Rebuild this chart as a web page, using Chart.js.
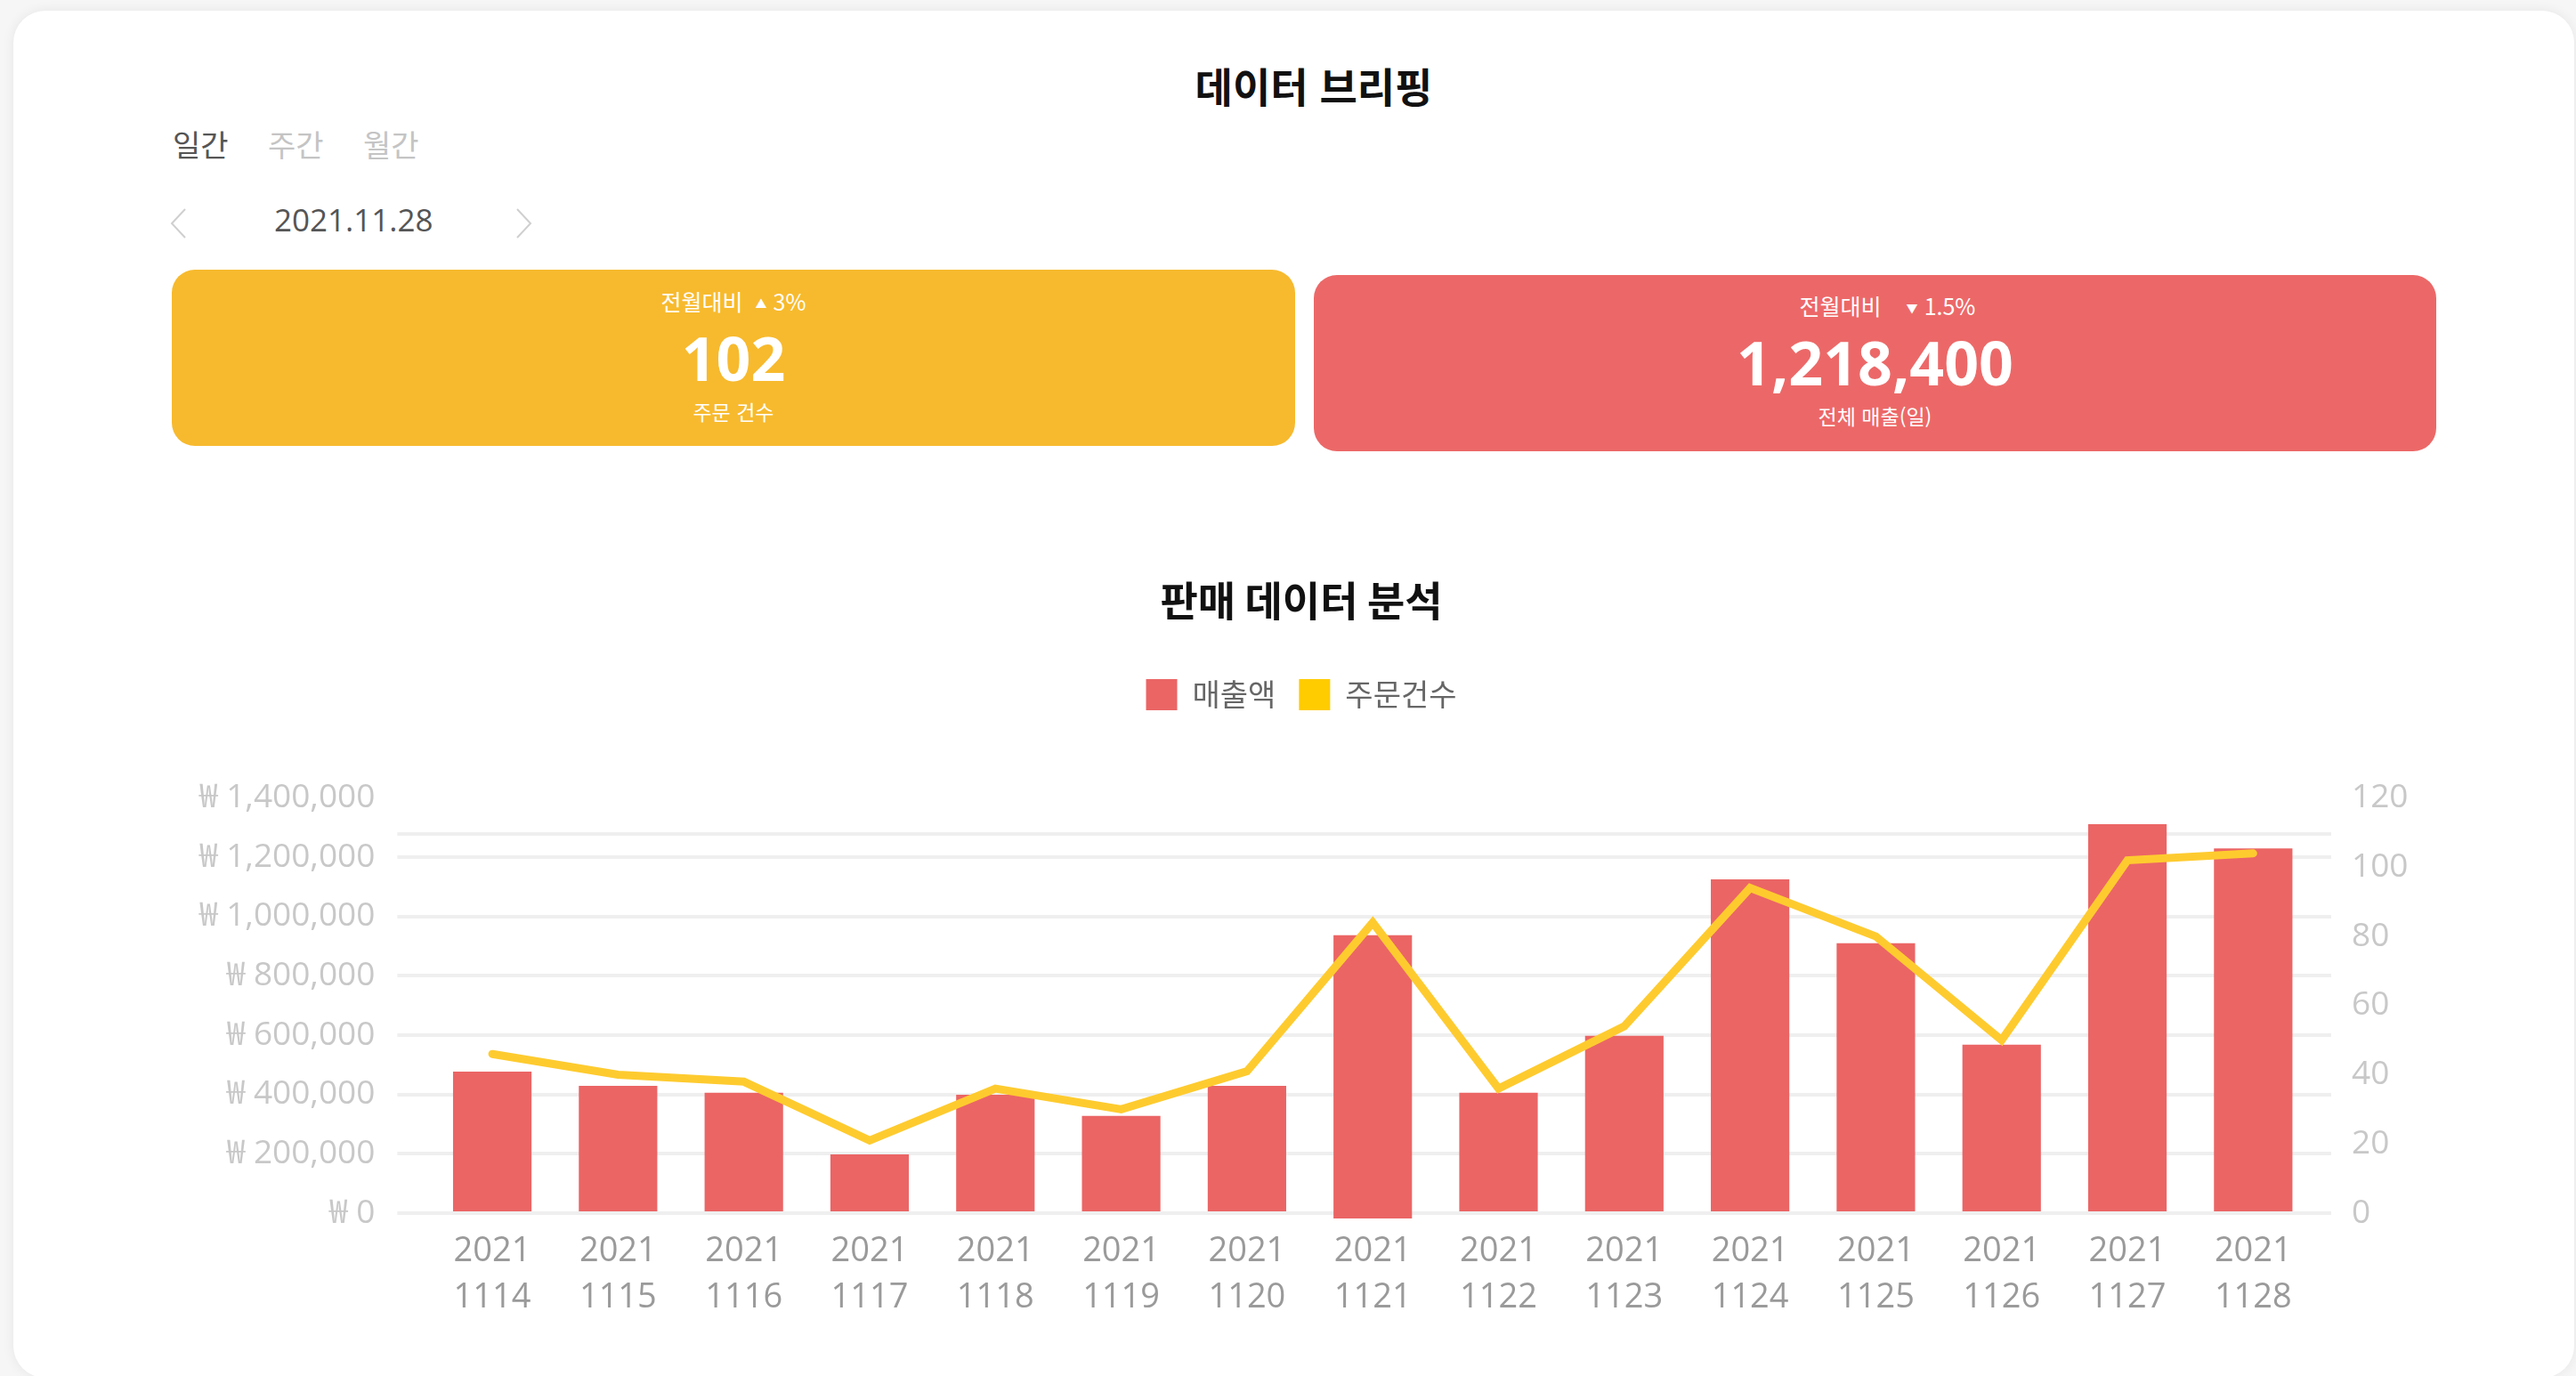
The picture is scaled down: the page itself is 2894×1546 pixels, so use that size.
<!DOCTYPE html>
<html lang="ko">
<head>
<meta charset="utf-8">
<title>데이터 브리핑</title>
<script src="https://cdn.jsdelivr.net/npm/chart.js@4.4.0/dist/chart.umd.min.js"></script>
<style>
  html, body { margin: 0; padding: 0; }
  body { width: 2894px; height: 1546px; overflow: hidden; background: #f6f6f6; position: relative;
         font-family: 'Open Sans', 'Noto Sans CJK KR', sans-serif; }
  .card { position: absolute; left: 15px; top: 12px; width: 2877px; height: 1536px; background: #fff;
          border-radius: 36px; box-shadow: 0 0 14px rgba(0,0,0,0.07); }
  .abs { position: absolute; white-space: nowrap; }
  .title { left: 1076px; width: 800px; top: 67px; height: 56px; line-height: 56px; text-align: center;
           font-size: 46px; font-weight: bold; color: #111; font-family: 'Noto Sans CJK KR', sans-serif; }
  .tab { top: 142px; height: 40px; line-height: 40px; font-size: 34px; color: #c4c4c4; font-family: 'Noto Sans CJK KR', sans-serif; }
  .tab.on { color: #555; }
  .date { left: 308px; top: 226px; height: 42px; line-height: 42px; font-size: 35px; color: #555; }
  .kpi { position: absolute; border-radius: 26px; color: #fff; }
  .kpi .line { position: absolute; left: 0; width: 100%; text-align: center; white-space: nowrap; }
  .kpi .sub { font-size: 25px; height: 30px; line-height: 30px; font-family: 'Noto Sans CJK KR', sans-serif; }
  .kpi .sub .tri { font-size: 13px; vertical-align: 3px; }
  .kpi .num { font-size: 68px; font-weight: bold; height: 80px; line-height: 80px; }
  .kpi .lab { font-size: 23px; height: 28px; line-height: 28px; font-family: 'Noto Sans CJK KR', sans-serif; }
  #chart { position: absolute; left: 150px; top: 620px; }
</style>
</head>
<body>
<div class="card"></div>
<div class="abs title">데이터 브리핑</div>
<div class="abs tab on" style="left:194px;">일간</div>
<div class="abs tab" style="left:301px;">주간</div>
<div class="abs tab" style="left:408px;">월간</div>
<svg class="abs" style="left:188px; top:233px;" width="24" height="36"><polyline points="20,2 5,18 20,34" fill="none" stroke="#cfcfcf" stroke-width="2"/></svg>
<div class="abs date">2021.11.28</div>
<svg class="abs" style="left:577px; top:233px;" width="24" height="36"><polyline points="4,2 19,18 4,34" fill="none" stroke="#cfcfcf" stroke-width="2"/></svg>

<div class="kpi" style="left:193px; top:303px; width:1262px; height:198px; background:#F7BA2E;">
  <div class="line sub" style="top:20px;">전월대비&nbsp;&nbsp;<span class="tri">▲</span>&nbsp;3%</div>
  <div class="line num" style="top:59px;">102</div>
  <div class="line lab" style="top:145px;">주문 건수</div>
</div>
<div class="kpi" style="left:1476px; top:309px; width:1261px; height:198px; background:#EC6868;">
  <div class="line sub" style="top:19px;">&nbsp;&nbsp;&nbsp;&nbsp;전월대비&nbsp;&nbsp;&nbsp;&nbsp;<span class="tri">▼</span>&nbsp;1.5%</div>
  <div class="line num" style="top:58px;">1,218,400</div>
  <div class="line lab" style="top:144px;">전체 매출(일)</div>
</div>

<canvas id="chart" width="2624" height="926"></canvas>

<script>
// ---- data ----
const categories = [
  ['2021', '1114'], ['2021', '1115'], ['2021', '1116'], ['2021', '1117'], ['2021', '1118'],
  ['2021', '1119'], ['2021', '1120'], ['2021', '1121'], ['2021', '1122'], ['2021', '1123'],
  ['2021', '1124'], ['2021', '1125'], ['2021', '1126'], ['2021', '1127'], ['2021', '1128']
];
const salesValues = [477000, 429000, 406000, 198000, 399000, 328000, 429000, 937000,
                     406000, 598000, 1126000, 910000, 568000, 1312000, 1230000];
const salesBase   = [0, 0, 0, 0, 0, 0, 0, -18000, 0, 0, 0, 0, 0, 0, 0];
const orderCounts = [46, 40, 38, 21, 36, 30, 41, 84, 36, 54, 94, 80, 50, 102, 104];
const salesTicks  = [0, 200000, 400000, 600000, 800000, 1000000, 1200000, 1400000];
const countTicks  = [0, 20, 40, 60, 80, 100, 120];
const salesExtraGrid = 1280000;
const seriesNames = ['매출액', '주문건수'];

// ---- chart ----
const FONT = "'Open Sans', 'Noto Sans CJK KR', sans-serif";
Chart.defaults.font.family = FONT;
const GRID = '#efefef';
const salesGridTicks = scale => {
  scale.ticks = salesTicks.concat([salesExtraGrid]).sort((a, b) => a - b).map(v => ({ value: v }));
};
const salesGridColor = ctx => (ctx.tick && ctx.tick.value === salesTicks[salesTicks.length - 1]) ? 'rgba(0,0,0,0)' : GRID;

new Chart(document.getElementById('chart'), {
  data: {
    labels: categories,
    datasets: [
      {
        type: 'bar',
        label: seriesNames[0],
        data: categories.map((c, i) => [salesBase[i], salesValues[i]]),
        backgroundColor: '#EB6565',
        yAxisID: 'y',
        order: 1,
        clip: false,
        categoryPercentage: 0.8,
        barPercentage: 0.78
      },
      {
        type: 'line',
        label: seriesNames[1],
        data: orderCounts,
        borderColor: '#FECB2F',
        backgroundColor: '#FFCC00',
        borderWidth: 9,
        borderCapStyle: 'round',
        borderJoinStyle: 'miter',
        pointRadius: 0,
        pointHoverRadius: 0,
        tension: 0,
        fill: false,
        yAxisID: 'y1',
        order: 0
      }
    ]
  },
  options: {
    responsive: false,
    devicePixelRatio: 1,
    animation: false,
    layout: { padding: 0 },
    plugins: {
      tooltip: { enabled: false },
      title: {
        display: true,
        text: '판매 데이터 분석',
        color: '#111',
        font: { size: 46, weight: 'bold', family: "'Noto Sans CJK KR', sans-serif" },
        padding: { top: 27.4, bottom: 34.4 }
      },
      legend: {
        position: 'top',
        labels: {
          boxWidth: 35,
          boxHeight: 35,
          padding: 26,
          color: '#666',
          font: { size: 34, family: "'Noto Sans CJK KR', sans-serif" },
          sort: (a, b) => a.datasetIndex - b.datasetIndex,
          generateLabels: chart => Chart.defaults.plugins.legend.labels.generateLabels(chart)
            .map(l => Object.assign(l, { lineWidth: 0, strokeStyle: l.fillStyle }))
        }
      }
    },
    scales: {
      x: {
        type: 'category',
        position: 'bottom',
        offset: true,
        grid: { display: false, drawTicks: false },
        border: { display: false },
        ticks: { color: '#9a9a9a', font: { size: 38, lineHeight: 1.37 }, padding: 17,
                 maxRotation: 0, autoSkip: false },
        afterFit: s => { s.height = 183; }
      },
      xSpacer: {
        type: 'category',
        position: 'top',
        offset: true,
        grid: { display: false, drawTicks: false },
        border: { display: false },
        ticks: { display: false },
        afterFit: s => { s.height = 88.6; }
      },
      y: {
        type: 'linear',
        position: 'left',
        min: 0,
        max: 1400000,
        afterBuildTicks: salesGridTicks,
        ticks: {
          color: '#c8c8c8',
          font: { size: 37 },
          padding: 25,
          callback: v => salesTicks.includes(v) ? '₩ ' + v.toLocaleString('en-US') : ''
        },
        grid: { color: salesGridColor, lineWidth: 4, drawTicks: true, tickLength: 36 },
        border: { display: false },
        afterFit: s => { s.width = 332.4; }
      },
      yGrid: {
        type: 'linear',
        position: 'right',
        weight: 0,
        min: 0,
        max: 1400000,
        afterBuildTicks: salesGridTicks,
        ticks: { display: false },
        grid: { color: salesGridColor, lineWidth: 4, drawOnChartArea: false, drawTicks: true, tickLength: 17 },
        border: { display: false },
        afterFit: s => { s.width = 17; }
      },
      y1: {
        type: 'linear',
        position: 'right',
        weight: 1,
        min: 0,
        max: 120,
        afterBuildTicks: s => { s.ticks = countTicks.map(v => ({ value: v })); },
        ticks: { color: '#c8c8c8', font: { size: 37 }, padding: 23 },
        grid: { display: false, drawTicks: false },
        border: { display: false },
        afterFit: s => { s.width = 155; }
      }
    }
  }
});
</script>
</body>
</html>
